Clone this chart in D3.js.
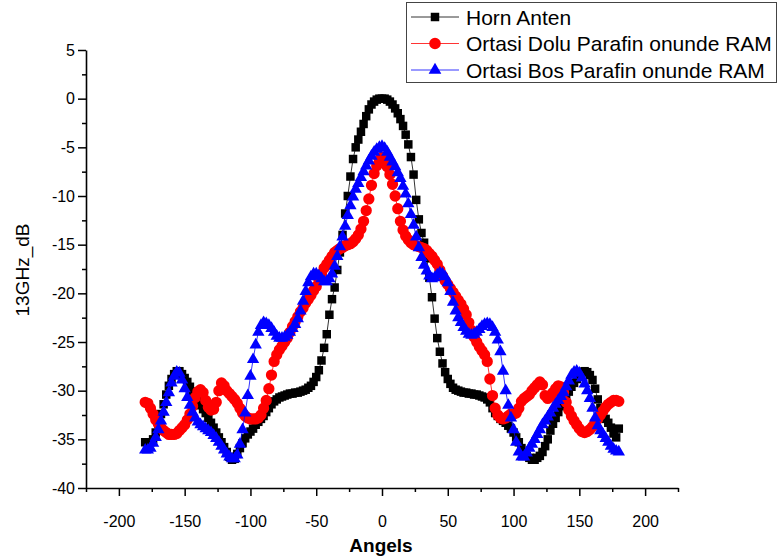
<!DOCTYPE html>
<html>
<head>
<meta charset="utf-8">
<script src="https://cdn.jsdelivr.net/npm/d3@7/dist/d3.min.js"></script>
<style>
  body { margin: 0; background: #fff; }
  svg { display: block; }
  text { font-family: Arial, "Liberation Sans", sans-serif; fill: #000; }
</style>
</head>
<body>
<svg id="chart" width="779" height="559"></svg>
<script>
// Measurement grid: antenna angle in degrees, 2-degree steps from -180 to 180
const angles = d3.range(-180, 181, 2);

// Received level at 13 GHz (dB), one value per angle
const hornAnten = [
  -35.3,-35.4,-35.3,-35.0,-34.3,-33.4,-32.4,-31.4,-30.4,-29.5,
  -28.8,-28.3,-28.0,-28.0,-28.3,-28.7,-29.1,-29.6,-30.1,-30.6,
  -31.0,-31.5,-31.9,-32.3,-32.8,-33.3,-33.8,-34.3,-34.8,-35.3,
  -35.8,-36.3,-36.8,-37.1,-37.0,-36.5,-35.9,-35.4,-34.9,-34.5,
  -34.2,-33.9,-33.5,-33.2,-32.9,-32.6,-32.2,-31.8,-31.4,-31.1,
  -30.9,-30.7,-30.6,-30.5,-30.4,-30.3,-30.3,-30.2,-30.2,-30.1,
  -30.0,-29.9,-29.7,-29.5,-29.1,-28.6,-27.9,-26.9,-25.6,-24.2,
  -22.2,-20.6,-19.4,-17.6,-15.8,-14.0,-11.8,-10.0,-8.0,-6.2,
  -5.0,-4.2,-3.4,-2.6,-1.8,-1.1,-0.6,-0.3,-0.1,0.0,
  0.0,
  0.0,-0.1,-0.3,-0.6,-1.0,-1.5,-2.1,-2.8,-3.7,-4.7,
  -6.0,-7.8,-10.4,-12.4,-13.8,-14.8,-16.4,-18.4,-20.4,-22.6,
  -24.6,-26.0,-27.2,-28.1,-28.8,-29.3,-29.7,-29.9,-30.0,-30.1,
  -30.2,-30.2,-30.3,-30.3,-30.4,-30.4,-30.5,-30.6,-30.7,-30.9,
  -31.2,-31.8,-32.3,-32.6,-32.9,-33.1,-33.3,-33.6,-33.9,-34.3,
  -34.8,-35.3,-35.9,-36.4,-36.7,-36.9,-37.1,-37.1,-36.9,-36.7,
  -36.3,-35.7,-35.0,-34.1,-33.4,-32.8,-32.2,-31.6,-31.1,-30.6,
  -30.1,-29.6,-29.2,-28.8,-28.4,-28.1,-28.0,-28.1,-28.4,-28.9,
  -29.8,-30.9,-31.8,-32.4,-32.9,-33.3,-33.8,-34.4,-34.8,-33.9
];

const ortasiDolu = [
  -31.2,-31.3,-31.8,-32.4,-33.0,-33.4,-33.8,-34.1,-34.3,-34.5,
  -34.5,-34.5,-34.4,-34.1,-33.8,-33.5,-33.0,-32.4,-31.6,-30.7,
  -30.1,-29.9,-30.2,-31.0,-31.7,-32.0,-31.9,-31.2,-30.0,-29.2,
  -29.5,-30.0,-30.3,-30.6,-30.9,-31.3,-31.8,-32.3,-32.6,-32.8,
  -32.9,-32.9,-32.9,-32.8,-32.5,-31.8,-31.0,-29.8,-28.4,-27.0,
  -26.3,-25.8,-25.4,-25.0,-24.6,-24.0,-23.4,-22.9,-22.4,-21.9,
  -21.5,-21.0,-20.6,-20.2,-19.7,-19.3,-18.6,-18.0,-17.4,-17.0,
  -16.6,-16.2,-15.8,-15.6,-15.4,-15.3,-15.1,-15.0,-14.9,-14.7,
  -14.4,-14.0,-13.4,-12.6,-11.5,-10.3,-8.9,-7.7,-6.9,-6.3,
  -6.0,
  -6.4,-7.0,-7.8,-8.8,-10.0,-11.3,-12.6,-13.5,-14.1,-14.5,
  -14.8,-15.0,-15.1,-15.2,-15.3,-15.4,-15.6,-15.9,-16.2,-16.6,
  -17.0,-17.6,-18.2,-18.7,-19.1,-19.5,-19.9,-20.3,-20.7,-21.1,
  -21.6,-22.2,-23.0,-23.8,-24.5,-25.0,-25.5,-25.9,-26.3,-27.0,
  -28.8,-30.5,-31.8,-32.5,-32.8,-32.9,-32.8,-32.6,-32.4,-32.4,
  -32.3,-31.8,-31.1,-30.8,-30.6,-30.4,-30.0,-29.7,-29.4,-29.1,
  -29.4,-30.5,-30.8,-30.6,-30.2,-29.8,-29.5,-29.6,-30.2,-31.2,
  -32.0,-32.6,-33.1,-33.5,-33.9,-34.2,-34.3,-34.2,-34.0,-33.7,
  -33.3,-32.9,-32.5,-32.1,-31.7,-31.4,-31.2,-31.0,-31.0,-31.1
];

const ortasiBos = [
  -36.1,-36.1,-35.9,-35.4,-34.8,-34.0,-33.1,-32.2,-31.2,-30.2,
  -29.2,-28.5,-28.1,-28.2,-28.9,-29.8,-30.7,-31.5,-32.2,-32.8,
  -33.2,-33.5,-33.7,-33.9,-34.1,-34.3,-34.6,-34.9,-35.3,-35.7,
  -36.1,-36.5,-36.8,-37.0,-37.0,-36.6,-35.5,-34.0,-32.3,-30.5,
  -28.5,-26.8,-25.3,-24.0,-23.3,-23.0,-23.1,-23.3,-23.6,-24.0,
  -24.4,-24.6,-24.6,-24.5,-24.3,-24.0,-23.6,-23.2,-22.6,-21.8,
  -20.8,-19.8,-18.9,-18.3,-18.0,-18.0,-18.2,-18.5,-18.8,-18.8,
  -18.5,-18.0,-17.2,-16.2,-15.2,-14.2,-13.1,-12.0,-11.0,-10.1,
  -9.3,-8.7,-8.1,-7.5,-6.9,-6.4,-5.9,-5.5,-5.2,-5.0,
  -4.9,
  -5.1,-5.5,-6.0,-6.5,-7.0,-7.6,-8.2,-9.0,-9.8,-10.8,
  -11.9,-13.0,-14.2,-15.3,-16.3,-17.1,-17.7,-18.2,-18.5,-18.4,
  -18.1,-17.9,-18.0,-18.3,-18.9,-19.8,-20.9,-21.8,-22.5,-23.0,
  -23.5,-23.9,-24.2,-24.3,-24.2,-24.0,-23.7,-23.4,-23.2,-23.1,
  -23.2,-23.5,-24.0,-24.8,-26.0,-28.0,-30.0,-31.5,-32.8,-34.0,
  -35.3,-36.3,-36.8,-36.8,-36.4,-35.9,-35.5,-35.0,-34.5,-34.0,
  -33.5,-33.1,-32.7,-32.3,-31.8,-31.4,-31.0,-30.6,-30.2,-29.6,
  -29.0,-28.4,-28.1,-28.0,-28.2,-28.7,-29.3,-30.0,-30.8,-31.8,
  -32.8,-33.6,-34.1,-34.5,-34.9,-35.3,-35.7,-36.0,-36.2,-36.3
];

const seriesNames = ["Horn Anten", "Ortasi Dolu Parafin onunde RAM", "Ortasi Bos Parafin onunde RAM"];
const xTicks = [-200, -150, -100, -50, 0, 50, 100, 150, 200];
const yTicks = [5, 0, -5, -10, -15, -20, -25, -30, -35, -40];
const xTitle = "Angels";
const yTitle = "13GHz_dB";

const series = [
  { name: seriesNames[0], values: hornAnten,  color: "#000000", symbol: d3.symbolSquare,   size: 72,  legendSize: 72 },
  { name: seriesNames[1], values: ortasiDolu, color: "#ff0000", symbol: d3.symbolCircle,   size: 100, legendSize: 105 },
  { name: seriesNames[2], values: ortasiBos,  color: "#0000ff", symbol: d3.symbolTriangle, size: 66,  legendSize: 70 }
];

const svg = d3.select("#chart");

const x = d3.scaleLinear().domain([-225, 225]).range([86, 678]);
const y = d3.scaleLinear().domain([-40, 5]).range([488, 50]);

// Minor ticks halfway between labelled ticks
const xMinor = xTicks.map(v => v - 25).concat([xTicks[xTicks.length - 1] + 25]);
const yMinor = yTicks.slice(0, -1).map(v => v - 2.5);

// ---- plotted series (lines with markers) ----
const line = d3.line().x((d, i) => x(angles[i])).y(d => y(d));
const plot = svg.append("g");
series.forEach(s => {
  plot.append("path")
    .datum(s.values)
    .attr("d", line)
    .attr("fill", "none")
    .attr("stroke", s.color)
    .attr("stroke-width", 0.8);
  plot.append("g").selectAll("path")
    .data(s.values)
    .join("path")
    .attr("transform", (d, i) => `translate(${x(angles[i])},${y(d)})`)
    .attr("d", d3.symbol().type(s.symbol).size(s.size))
    .attr("fill", s.color);
});

// ---- axes ----
const fmt = d => String(d);
svg.append("g").attr("transform", "translate(86,0)")
  .call(d3.axisLeft(y).tickValues(yTicks).tickSize(8).tickSizeOuter(0).tickPadding(3).tickFormat(fmt));
svg.append("g").attr("transform", "translate(86,0)")
  .call(d3.axisLeft(y).tickValues(yMinor).tickSize(4).tickFormat(""))
  .call(g => g.select(".domain").remove());

svg.append("g").attr("transform", "translate(0,488)")
  .call(d3.axisBottom(x).tickValues(xTicks).tickSize(8).tickSizeOuter(0).tickPadding(20).tickFormat(fmt));
svg.append("g").attr("transform", "translate(0,488)")
  .call(d3.axisBottom(x).tickValues(xMinor).tickSize(4).tickFormat(""))
  .call(g => g.select(".domain").remove());

svg.selectAll(".tick line").attr("stroke", "#000").attr("stroke-width", 1.5);
svg.selectAll(".domain").attr("stroke", "#000").attr("stroke-width", 1.6);
svg.selectAll(".tick text").attr("font-size", 16).attr("fill", "#000")
  .attr("font-family", "Arial, 'Liberation Sans', sans-serif");

// axis titles
svg.append("text")
  .attr("x", 381).attr("y", 552)
  .attr("text-anchor", "middle")
  .attr("font-size", 19).attr("font-weight", "bold")
  .text(xTitle);
svg.append("text")
  .attr("transform", "translate(29,270) rotate(-90)")
  .attr("text-anchor", "middle")
  .attr("font-size", 19)
  .text(yTitle);

// ---- legend ----
const legend = svg.append("g");
legend.append("rect")
  .attr("x", 406.5).attr("y", 2.5).attr("width", 370).attr("height", 80)
  .attr("fill", "#fff").attr("stroke", "#444").attr("stroke-width", 1);
series.forEach((s, i) => {
  const cy = 17 + i * 26.5;
  legend.append("line")
    .attr("x1", 411).attr("x2", 459).attr("y1", cy).attr("y2", cy)
    .attr("stroke", s.color).attr("stroke-width", 0.8);
  legend.append("path")
    .attr("transform", `translate(435,${cy})`)
    .attr("d", d3.symbol().type(s.symbol).size(s.legendSize))
    .attr("fill", s.color);
  legend.append("text")
    .attr("x", 466).attr("y", cy + 7.5)
    .attr("font-size", 21)
    .text(s.name);
});
</script>
</body>
</html>
